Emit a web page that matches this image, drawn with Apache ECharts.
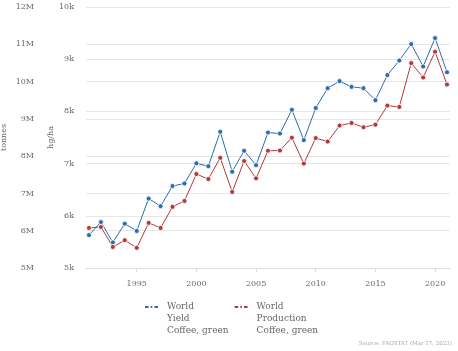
<!DOCTYPE html>
<html lang="en">

<head>
    <meta charset="UTF-8">
    <title>World coffee, green</title>
    <style>
        html, body { margin: 0; padding: 0; background: #fff; }
        #main { width: 458px; height: 351px; }
    </style>
    <script src="https://cdn.jsdelivr.net/npm/echarts@6/dist/echarts.min.js"></script>
</head>

<body>
    <div id="main"></div>
    <script type="text/javascript">
        // years
        var years = [1991, 1992, 1993, 1994, 1995, 1996, 1997, 1998, 1999, 2000,
            2001, 2002, 2003, 2004, 2005, 2006, 2007, 2008, 2009, 2010,
            2011, 2012, 2013, 2014, 2015, 2016, 2017, 2018, 2019, 2020, 2021];
        // World Yield, Coffee green (hg/ha)
        var yieldVals = [5630, 5880, 5490, 5850, 5710, 6330, 6185, 6570, 6620, 7005,
            6950, 7610, 6845, 7245, 6970, 7595, 7575, 8030, 7450, 8065,
            8445, 8580, 8470, 8445, 8215, 8695, 8975, 9290, 8860, 9405, 8750];
        // World Production, Coffee green (tonnes)
        var prodVals = [6075000, 6100000, 5565000, 5745000, 5540000, 6210000, 6075000, 6640000, 6800000, 7520000,
            7385000, 7955000, 7040000, 7870000, 7405000, 8145000, 8150000, 8495000, 7800000, 8485000,
            8390000, 8820000, 8890000, 8775000, 8845000, 9355000, 9320000, 10495000, 10110000, 10800000, 9920000];
        var yearTicks = [1995, 2000, 2005, 2010, 2015, 2020];
        var yieldName = 'World\nYield\nCoffee, green';
        var prodName = 'World\nProduction\nCoffee, green';

        function pairs(xs, ys) {
            return xs.map(function (x, i) { return [x, ys[i]]; });
        }

        var font = 'DejaVu Serif';
        var txt = '#666';

        var option = {
            animation: false,
            textStyle: { fontFamily: font },
            grid: { left: 86, right: 8, top: 7, bottom: 83, containLabel: false, outerBoundsMode: 'none' },
            legend: {
                left: 144,
                top: 277,
                padding: 0,
                itemGap: 5,
                itemWidth: 13,
                itemHeight: 5,
                textStyle: { fontFamily: font, fontSize: 9, color: txt, lineHeight: 12, padding: [0, 0, 0, 4] },
                // two blank lines in front so the first text line sits on the icon
                formatter: function (name) { return '\n\n' + name; },
                data: [yieldName, prodName]
            },
            graphic: [{
                type: 'text',
                right: 6,
                top: 341,
                style: { text: 'Source: FAOSTAT (Mar 17, 2023)', fontFamily: font, fontSize: 5.5, fill: '#aaa' }
            }],
            xAxis: {
                type: 'value',
                min: 1990.75,
                max: 2021.25,
                axisLine: { show: true, lineStyle: { color: '#ddd' } },
                axisTick: { show: true, length: 4, lineStyle: { color: '#ddd' }, customValues: yearTicks },
                splitLine: { show: false },
                axisLabel: {
                    customValues: yearTicks,
                    color: txt, fontFamily: font, fontSize: 8, margin: 12,
                    formatter: function (v) { return String(v); }
                }
            },
            yAxis: [{
                type: 'value',
                name: 'tonnes',
                nameLocation: 'middle',
                nameRotate: 90,
                nameGap: 36,
                nameMoveOverlap: false,
                nameTextStyle: { color: txt, fontFamily: font, fontSize: 8 },
                position: 'left',
                offset: 42,
                min: 5000000,
                max: 12000000,
                interval: 1000000,
                axisLine: { show: false },
                axisTick: { show: false },
                splitLine: { lineStyle: { color: '#e6e6e6' } },
                axisLabel: {
                    color: txt, fontFamily: font, fontSize: 8, margin: 10,
                    formatter: function (v) { return (v / 1000000) + 'M'; }
                }
            }, {
                type: 'value',
                name: 'hg/ha',
                nameLocation: 'middle',
                nameRotate: 90,
                nameGap: 31,
                nameMoveOverlap: false,
                nameTextStyle: { color: txt, fontFamily: font, fontSize: 8 },
                position: 'left',
                min: 5000,
                max: 10000,
                interval: 1000,
                axisLine: { show: false },
                axisTick: { show: false },
                splitLine: { lineStyle: { color: '#e6e6e6' } },
                axisLabel: {
                    color: txt, fontFamily: font, fontSize: 8, margin: 12,
                    formatter: function (v) { return (v / 1000) + 'k'; }
                }
            }],
            series: [{
                name: yieldName,
                type: 'line',
                yAxisIndex: 1,
                symbol: 'circle',
                symbolSize: 5,
                itemStyle: { color: '#2b6cad', borderColor: '#fff', borderWidth: 0.8 },
                lineStyle: { color: '#2b6cad', width: 1 },
                data: pairs(years, yieldVals)
            }, {
                name: prodName,
                type: 'line',
                yAxisIndex: 0,
                symbol: 'circle',
                symbolSize: 5,
                itemStyle: { color: '#b03a3b', borderColor: '#fff', borderWidth: 0.8 },
                lineStyle: { color: '#b03a3b', width: 1 },
                data: pairs(years, prodVals)
            }]
        };

        var myChart = echarts.init(document.getElementById('main'));
        myChart.setOption(option);
    </script>
</body>

</html>
